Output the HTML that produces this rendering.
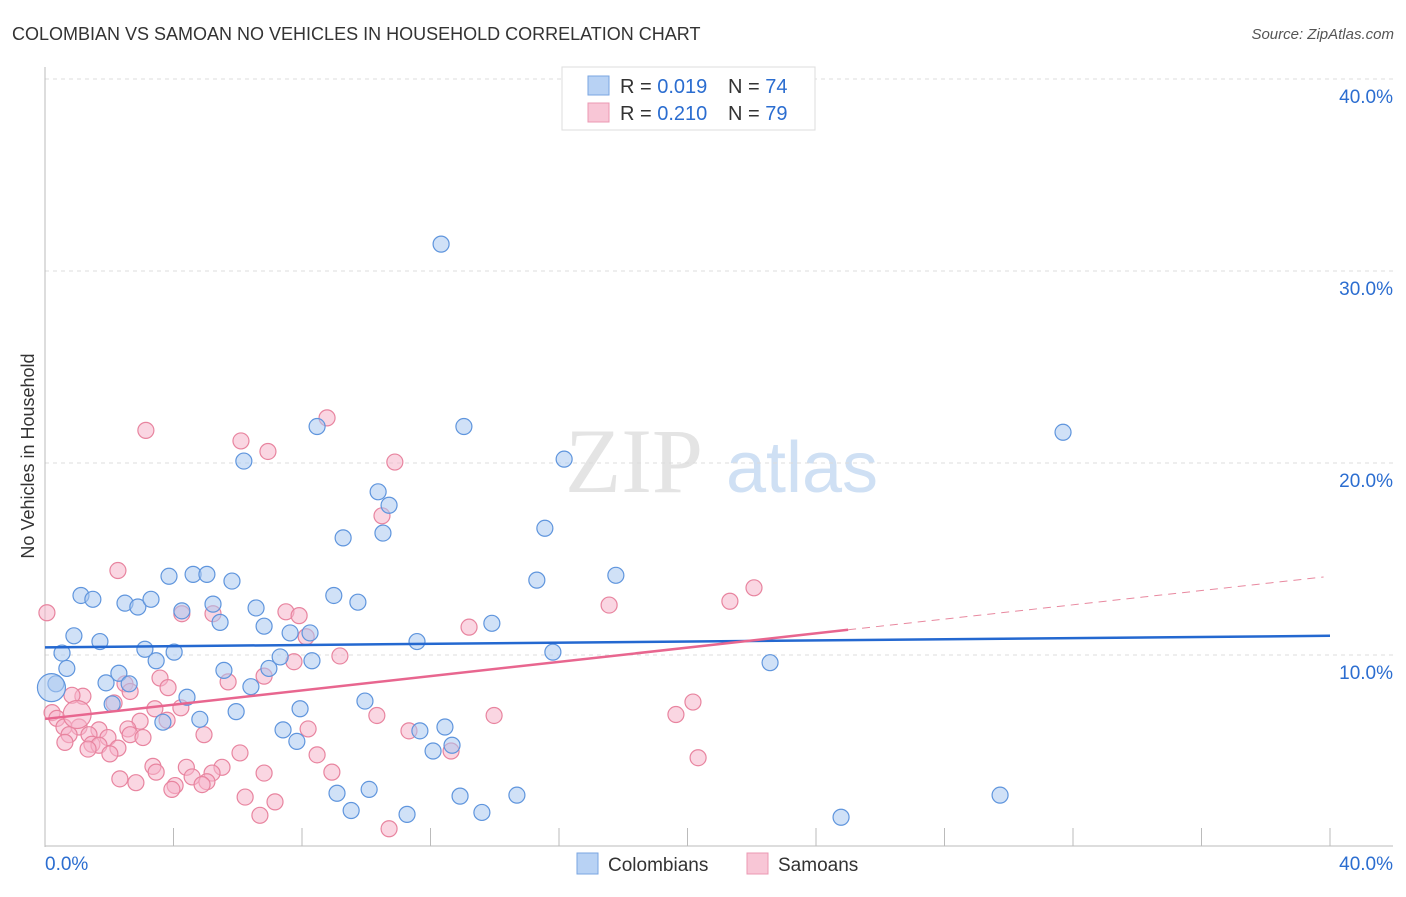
<!DOCTYPE html>
<html><head><meta charset="utf-8"><style>
body{margin:0;background:#fff;font-family:"Liberation Sans",sans-serif;}
</style></head><body>
<svg id="chart" width="1406" height="892" xmlns="http://www.w3.org/2000/svg">
<text x="12" y="40" font-size="18" fill="#333">COLOMBIAN VS SAMOAN NO VEHICLES IN HOUSEHOLD CORRELATION CHART</text>
<text x="1394" y="39" font-size="15" fill="#555" font-style="italic" text-anchor="end">Source: ZipAtlas.com</text>
<text x="634" y="492" font-size="92" fill="#e4e4e4" font-family="Liberation Serif" text-anchor="middle">ZIP</text>
<text x="802" y="492" font-size="72" fill="#cfe0f4" text-anchor="middle">atlas</text>
<text transform="translate(34,456) rotate(-90)" font-size="18" fill="#333" text-anchor="middle">No Vehicles in Household</text>
<g id="grid"></g><g id="axes"></g><g id="pts"></g><g id="lines"></g>
<g>
<rect x="562" y="67" width="253" height="63" fill="#fff" stroke="#ddd"/>
<rect x="588" y="76" width="21" height="19" fill="#b8d2f4" stroke="#7aa6e2"/>
<rect x="588" y="103" width="21" height="19" fill="#f8c6d6" stroke="#eb98b3"/>
<text x="620" y="93" font-size="20" fill="#333">R = <tspan fill="#2b6dd0">0.019</tspan></text>
<text x="728" y="93" font-size="20" fill="#333">N = <tspan fill="#2b6dd0">74</tspan></text>
<text x="620" y="120" font-size="20" fill="#333">R = <tspan fill="#2b6dd0">0.210</tspan></text>
<text x="728" y="120" font-size="20" fill="#333">N = <tspan fill="#2b6dd0">79</tspan></text>
</g>
<g>
<rect x="577" y="853" width="21" height="21" fill="#b8d2f4" stroke="#7aa6e2"/>
<text x="608" y="871" font-size="19" fill="#333">Colombians</text>
<rect x="747" y="853" width="21" height="21" fill="#f8c6d6" stroke="#eb98b3"/>
<text x="778" y="871" font-size="19" fill="#333">Samoans</text>
</g>
</svg>
<script>
const yTicks=[10,20,30,40];
const xTickLabels=["0.0%","40.0%"];
const blueX=[12.33,13.04,31.69,8.47,6.19,16.16,10.37,10.71,15.56,9.28,10.52,1.12,1.49,3.86,4.61,5.04,5.82,2.49,2.89,3.30,4.26,5.23,6.57,8.99,9.74,15.31,17.77,5.45,6.82,7.63,8.25,13.91,0.90,1.71,11.58,3.11,4.02,0.53,3.46,15.81,22.57,0.68,2.30,5.57,6.97,7.32,8.31,0.34,1.90,2.62,6.41,4.42,2.09,9.96,5.95,7.94,4.82,3.67,7.41,12.45,11.67,7.84,12.67,12.08,9.09,10.09,12.92,14.69,29.73,9.53,11.27,13.60,24.78,0.2];
const blueY=[31.4,21.9,21.6,21.9,20.1,20.2,18.5,17.8,16.6,16.1,16.35,13.1,12.9,14.1,14.2,14.2,13.85,12.7,12.5,12.9,12.3,12.65,12.45,13.1,12.75,13.9,14.15,11.7,11.5,11.15,11.15,11.65,11.0,10.7,10.7,10.3,10.15,10.1,9.7,10.15,9.6,9.3,9.05,9.2,9.3,9.9,9.7,8.5,8.55,8.5,8.35,7.8,7.45,7.6,7.05,7.2,6.65,6.5,6.1,6.25,6.05,5.5,5.3,5.0,2.8,3.0,2.65,2.7,2.7,1.9,1.7,1.8,1.55,8.3];
const pinkX=[8.78,3.14,6.10,6.94,10.89,10.49,2.27,22.07,21.32,17.56,7.50,7.91,4.26,5.23,13.20,8.13,0.06,9.18,7.75,6.82,3.58,5.70,2.49,2.65,3.83,1.18,0.84,4.23,3.42,2.15,20.17,19.64,13.98,10.33,0.22,0.37,0.59,1.06,2.96,3.80,1.68,2.58,1.37,0.75,1.96,2.65,3.05,4.95,8.19,11.33,0.62,1.46,1.68,2.27,1.34,2.02,6.07,8.47,12.64,20.33,3.36,5.51,4.40,3.46,5.20,6.82,8.93,2.33,4.58,2.83,5.04,4.05,3.95,4.89,6.23,7.16,6.69,10.71,1.0];
const pinkY=[22.35,21.7,21.15,20.6,20.05,17.25,14.4,13.5,12.8,12.6,12.25,12.05,12.15,12.15,11.45,10.95,12.2,9.95,9.65,8.9,8.8,8.6,8.5,8.1,8.3,7.85,7.9,7.25,7.2,7.5,7.55,6.9,6.85,6.85,7.0,6.7,6.25,6.25,6.55,6.6,6.1,6.15,5.85,5.85,5.7,5.85,5.7,5.85,6.15,6.05,5.45,5.35,5.3,5.15,5.1,4.85,4.9,4.8,5.0,4.65,4.2,4.15,4.15,3.9,3.85,3.85,3.9,3.55,3.65,3.35,3.4,3.2,3.0,3.25,2.6,2.35,1.65,0.95,6.9];
const blueTrend=[10.4,11.0];
const pinkTrend=[6.67,14.1];
const pinkSolidEnd=25;
const NS="http://www.w3.org/2000/svg";
const X=v=>45+v*32.125, Y=v=>847-v*19.2;
function mk(tag,attrs,parent){const e=document.createElementNS(NS,tag);for(const k in attrs)e.setAttribute(k,attrs[k]);document.getElementById(parent).appendChild(e);return e;}
for(const t of yTicks){
 const g=mk('line',{x1:45,x2:1393,y1:Y(t),y2:Y(t),stroke:'#ddd','stroke-dasharray':'4,4'},'grid');
 
 
 const l=mk('text',{x:1393,y:Y(t)+24,'font-size':19,fill:'#2b6dd0','text-anchor':'end'},'grid');
 l.textContent=t.toFixed(1)+'%';
 
 
}
const ax=mk('line',{x1:45,x2:45,y1:67,y2:847,stroke:'#bbb'},'axes');


const bx=mk('line',{x1:45,x2:1393,y1:846,y2:846,stroke:'#bbb'},'axes');


for(let i=1;i<=10;i++){
 const t=mk('line',{x1:X(i*4),x2:X(i*4),y1:828,y2:846,stroke:'#bbb'},'axes');
 
 
}
const xl0=mk('text',{x:45,y:870,'font-size':19,fill:'#2b6dd0'},'axes');
xl0.textContent=xTickLabels[0];


const xl1=mk('text',{x:1393,y:870,'font-size':19,fill:'#2b6dd0','text-anchor':'end'},'axes');
xl1.textContent=xTickLabels[1];


function dots(xs,ys,fill,stroke,name){
 xs.forEach((x,i)=>{
  const big=(i===xs.length-1);
  const c=mk('circle',{cx:X(x),cy:Y(ys[i]),r:big?14:8,fill:fill,'fill-opacity':0.55,stroke:stroke,'stroke-width':1.2},'pts');
  
  
 });
}
dots(pinkX,pinkY,'#f5b5ca','#e8849f','samoan-point');
dots(blueX,blueY,'#a9c9f1','#5f95dd','colombian-point');
const bl=mk('line',{x1:X(0),y1:Y(blueTrend[0]),x2:X(40),y2:Y(blueTrend[1]),stroke:'#2468d0','stroke-width':2.5},'lines');


const pAt=v=>pinkTrend[0]+(pinkTrend[1]-pinkTrend[0])*v/40;
const pl=mk('line',{x1:X(0),y1:Y(pinkTrend[0]),x2:X(pinkSolidEnd),y2:Y(pAt(pinkSolidEnd)),stroke:'#e8668f','stroke-width':2.5},'lines');


const pd=mk('line',{x1:X(pinkSolidEnd),y1:Y(pAt(pinkSolidEnd)),x2:X(39.8),y2:Y(pAt(39.8)),stroke:'#e8889f','stroke-width':1,'stroke-dasharray':'8,6'},'lines');


</script>
</body></html>
